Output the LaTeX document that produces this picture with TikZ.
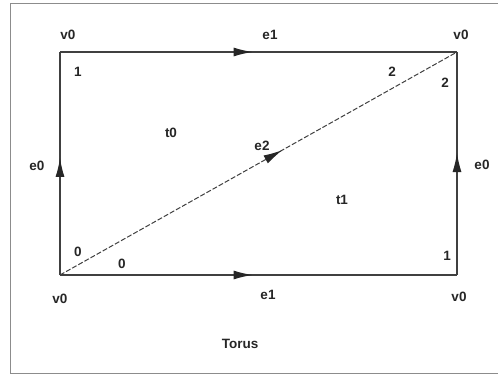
\documentclass[tikz,border=0pt]{standalone}
\usepackage{fontspec}
\setmainfont{Liberation Sans}
\usetikzlibrary{arrows.meta,decorations.markings}
\begin{document}
\begin{tikzpicture}[x=1pt,y=-1pt,
  lbl/.style={font=\fontsize{13.5}{16}\selectfont\bfseries, inner sep=0pt, text=black!85},
  edge/.style={draw=black!75, line width=1.3pt},
  midarrow/.style={postaction={decorate},decoration={markings,
     mark=at position #1 with {\arrow[black!85]{Latex[length=19pt,width=9pt]}}}},
  midarrow/.default=0.5]
\useasboundingbox (0,0) rectangle (498,375);
\fill[white] (0,0) rectangle (498,375);
\draw[black!45, line width=1pt] (505,3) -- (10,3) -- (10,373) -- (505,373);
\coordinate (tl) at (60,52);
\coordinate (tr) at (457,52);
\coordinate (bl) at (60,275);
\coordinate (br) at (457,275);
\draw[edge, midarrow=0.485] (tl) -- (tr);
\draw[edge, midarrow=0.485] (bl) -- (br);
\draw[edge, midarrow=0.525] (bl) -- (tl);
\draw[edge, midarrow=0.547] (br) -- (tr);
\draw[edge, line width=1pt, dashed, dash pattern=on 5pt off 2pt, midarrow=0.56] (bl) -- (tr);
\node[lbl] (v0a) at (68,35) {v0};
\node[lbl] (v0b) at (461,35) {v0};
\node[lbl] (v0c) at (60,299) {v0};
\node[lbl] (v0d) at (459,297) {v0};
\node[lbl] (e1a) at (270,35) {e1};
\node[lbl] (e1b) at (268,295) {e1};
\node[lbl] (e0a) at (37,166) {e0};
\node[lbl] (e0b) at (482,165) {e0};
\node[lbl] (e2) at (262,146) {e2};
\node[lbl] (t0) at (171,133) {t0};
\node[lbl] (t1) at (342,200) {t1};
\node[lbl] (n1a) at (78,72) {1};
\node[lbl] (n2a) at (392,72) {2};
\node[lbl] (n2b) at (445,83) {2};
\node[lbl] (n0a) at (78,252) {0};
\node[lbl] (n0b) at (122,264) {0};
\node[lbl] (n1b) at (447,256) {1};
\node[lbl] (torus) at (240,344) {Torus};
\end{tikzpicture}
\end{document}
